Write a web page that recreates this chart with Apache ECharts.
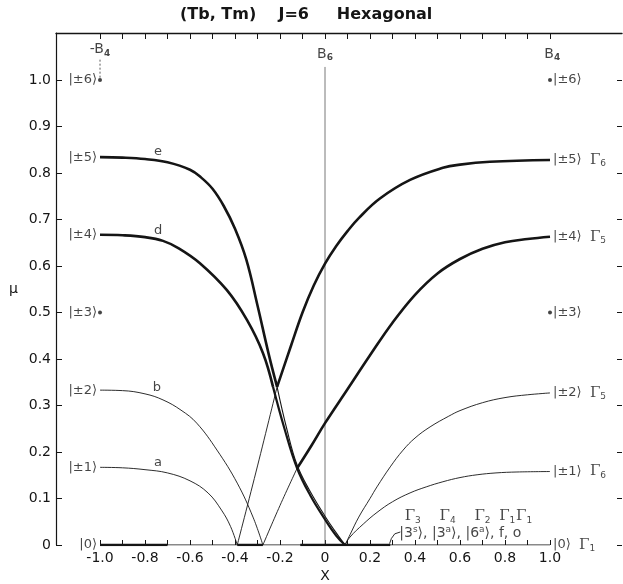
<!DOCTYPE html>
<html>
<head>
<meta charset="utf-8">
<script src="https://cdn.jsdelivr.net/npm/echarts@6/dist/echarts.min.js"></script>
<style>
  html, body { margin: 0; padding: 0; background: #fff; }
  #chart { width: 623px; height: 584px; }
</style>
</head>
<body>
<div id="chart"></div>
<script>
// Ground-doublet moment u versus mixing parameter X, J = 6, hexagonal field.

const xTickValues = [-1.0, -0.9, -0.8, -0.7, -0.6, -0.5, -0.4, -0.3, -0.2, -0.1, 0, 0.1, 0.2, 0.3, 0.4, 0.5, 0.6, 0.7, 0.8, 0.9, 1.0];
const xLabelValues = [-1.0, -0.8, -0.6, -0.4, -0.2, 0, 0.2, 0.4, 0.6, 0.8, 1.0];
const xLabelTexts = ['-1.0', '-0.8', '-0.6', '-0.4', '-0.2', '0', '0.2', '0.4', '0.6', '0.8', '1.0'];
const yTickValues = [0, 0.1, 0.2, 0.3, 0.4, 0.5, 0.6, 0.7, 0.8, 0.9, 1.0];
const yLabelTexts = ['0', '0.1', '0.2', '0.3', '0.4', '0.5', '0.6', '0.7', '0.8', '0.9', '1.0'];

// curve e : |±5> doublet entering from the left
const curveELeft = [[-1, 0.834], [-0.9, 0.833], [-0.8, 0.83], [-0.7, 0.823], [-0.6, 0.807], [-0.55, 0.79], [-0.5, 0.766], [-0.45, 0.729], [-0.4, 0.68], [-0.35, 0.614], [-0.3, 0.515], [-0.25, 0.41], [-0.213, 0.34]];
const curveEMid = [[-0.213, 0.34], [-0.17, 0.25], [-0.124, 0.172], [-0.067, 0.116], [0, 0.062], [0.05, 0.026], [0.089, 0]];
const curveERight = [[0.089, 0], [0.111, 0.017], [0.17, 0.045], [0.231, 0.07], [0.3, 0.093], [0.378, 0.112], [0.45, 0.125], [0.524, 0.136], [0.6, 0.145], [0.676, 0.151], [0.76, 0.155], [0.853, 0.157], [1.0, 0.158]];

// curve d : |±4> doublet entering from the left
const curveDLeft = [[-1, 0.667], [-0.9, 0.666], [-0.8, 0.662], [-0.72, 0.654], [-0.65, 0.638], [-0.556, 0.606], [-0.436, 0.548], [-0.347, 0.484], [-0.276, 0.413], [-0.231, 0.34]];
const curveDMid = [[-0.231, 0.34], [-0.18, 0.25], [-0.124, 0.165], [-0.067, 0.108], [0, 0.055], [0.05, 0.02], [0.089, 0]];
const curveDRight = [[0.089, 0], [0.111, 0.022], [0.15, 0.06], [0.2, 0.1], [0.231, 0.125], [0.29, 0.168], [0.347, 0.204], [0.4, 0.23], [0.467, 0.254], [0.55, 0.277], [0.6, 0.289], [0.7, 0.306], [0.8, 0.317], [0.9, 0.323], [1.0, 0.327]];

// curve a : |±1> doublet entering from the left
const curveALeft = [[-1, 0.167], [-0.9, 0.166], [-0.8, 0.162], [-0.7, 0.155], [-0.6, 0.138], [-0.52, 0.112], [-0.46, 0.075], [-0.42, 0.04], [-0.39, 0]];
const curveARise = [[-0.39, 0], [-0.3, 0.17], [-0.213, 0.34]];
const curveARight = [[-0.213, 0.34], [-0.15, 0.43], [-0.1, 0.5], [-0.05, 0.558], [0, 0.605], [0.05, 0.643], [0.1, 0.675], [0.15, 0.703], [0.244, 0.745], [0.378, 0.785], [0.524, 0.811], [0.6, 0.818], [0.733, 0.824], [1.0, 0.828]];

// curve b : |±2> doublet entering from the left
const curveBLeft = [[-1, 0.333], [-0.9, 0.332], [-0.8, 0.325], [-0.72, 0.312], [-0.64, 0.29], [-0.57, 0.262], [-0.48, 0.204], [-0.39, 0.133], [-0.32, 0.06], [-0.276, 0]];
const curveBRise = [[-0.276, 0], [-0.2, 0.085], [-0.124, 0.165]];
const curveBRight = [[-0.124, 0.165], [-0.06, 0.214], [0, 0.262], [0.1, 0.335], [0.2, 0.408], [0.3, 0.478], [0.4, 0.538], [0.5, 0.584], [0.6, 0.615], [0.7, 0.637], [0.8, 0.651], [0.9, 0.658], [1.0, 0.663]];

// singlet levels lying on u = 0
const baseLine = [[-1, 0], [1, 0]];
const baseThick = [[[-1, 0], [-0.7, 0]], [[-0.39, 0], [-0.276, 0]], [[-0.11, 0], [0.29, 0]]];

// pure states at the ends (|±6>, |±3>)
const pureDots = [[-1, 1.0], [-1, 0.5], [1, 1.0], [1, 0.5]];

const leftKets = [[-1, 1.0, '|±6⟩'], [-1, 0.834, '|±5⟩'], [-1, 0.667, '|±4⟩'], [-1, 0.5, '|±3⟩'], [-1, 0.333, '|±2⟩'], [-1, 0.167, '|±1⟩'], [-1, 0, '|0⟩']];
const rightKets = [[1, 1.0, '|±6⟩', ''], [1, 0.828, '|±5⟩', '6'], [1, 0.663, '|±4⟩', '5'], [1, 0.5, '|±3⟩', ''], [1, 0.327, '|±2⟩', '5'], [1, 0.158, '|±1⟩', '6'], [1, 0, '|0⟩', '1']];
const curveLetters = [[-0.742, 0.845, 'e'], [-0.742, 0.677, 'd'], [-0.747, 0.338, 'b'], [-0.742, 0.178, 'a']];
const gammaSinglets = [[0.39, 0.062, '3'], [0.545, 0.062, '4'], [0.70, 0.062, '2'], [0.81, 0.062, '1'], [0.885, 0.062, '1']];
const singletStates = [[0.33, 0.026, '|3{sup|s}⟩, |3{sup|a}⟩, |6{sup|a}⟩, f, o']];
const fieldLabels = [[-1, 1.066, '-B', '4'], [0, 1.056, 'B', '6'], [1.01, 1.056, 'B', '4']];
const b6Line = [[0, 0], [0, 1.028]];
const b4Guide = [[-1, 1.005], [-1, 1.047]];
const arrowPath = [[0.335, 0.028], [0.31, 0.024], [0.295, 0.014], [0.287, 0.003]];

const FONT = 'DejaVu Sans';
const INK = '#151515';

function curve(data, width) {
  return {
    type: 'line', data: data, showSymbol: false, smooth: 0.4, silent: true,
    lineStyle: { color: INK, width: width }, z: 3
  };
}

function labelSeries(rows, label) {
  return {
    type: 'scatter', symbolSize: 0, silent: true, clip: false,
    data: rows.map(r => ({ value: [r[0], r[1]], raw: r })),
    label: Object.assign({
      show: true, distance: 3, color: INK, fontFamily: FONT, fontSize: 13
    }, label),
    z: 5
  };
}

const gammaRich = {
  g: { fontFamily: 'DejaVu Serif', fontSize: 15, color: INK },
  s: { fontFamily: FONT, fontSize: 9, color: INK, padding: [8, 0, 0, 0] }
};

const series = [
  curve(baseLine, 1.2),
  ...baseThick.map(seg => curve(seg, 2.4)),
  curve(curveELeft, 2.6), curve(curveEMid, 1.1), curve(curveERight, 0.9),
  curve(curveDLeft, 2.6), curve(curveDMid, 2.2), curve(curveDRight, 0.9),
  curve(curveALeft, 0.9), curve(curveARise, 0.9), curve(curveARight, 2.6),
  curve(curveBLeft, 0.9), curve(curveBRise, 0.9), curve(curveBRight, 2.6),
  {
    type: 'line', data: b6Line, showSymbol: false, silent: true,
    lineStyle: { color: '#555', width: 0.8 }, z: 2
  },
  {
    type: 'line', data: b4Guide, showSymbol: false, silent: true,
    lineStyle: { color: '#333', width: 0.8, type: [2, 2] }, z: 2
  },
  {
    type: 'lines', coordinateSystem: 'cartesian2d', polyline: true, silent: true,
    symbol: ['none', 'arrow'], symbolSize: 6,
    lineStyle: { color: INK, width: 0.9, opacity: 1 },
    data: [{ coords: arrowPath }], z: 3
  },
  {
    type: 'scatter', data: pureDots, symbolSize: 4, silent: true, clip: false,
    itemStyle: { color: INK }, z: 4
  },
  labelSeries(leftKets, { position: 'left', formatter: p => p.data.raw[2] }),
  labelSeries(rightKets, {
    position: 'right',
    formatter: p => { const r = p.data.raw; return r[3] ? r[2] + '  {g|Γ}{s|' + r[3] + '}' : r[2]; },
    rich: gammaRich
  }),
  labelSeries(curveLetters, { position: 'inside', formatter: p => p.data.raw[2] }),
  labelSeries(gammaSinglets, {
    position: 'inside', formatter: p => '{g|Γ}{s|' + p.data.raw[2] + '}', rich: gammaRich
  }),
  labelSeries(singletStates, {
    position: 'right', distance: 0, fontSize: 14,
    formatter: p => p.data.raw[2],
    rich: { sup: { fontFamily: FONT, fontSize: 9, color: INK, padding: [0, 0, 7, 0] } }
  }),
  labelSeries(fieldLabels, {
    position: 'inside', fontSize: 14,
    formatter: p => p.data.raw[2] + '{s|' + p.data.raw[3] + '}',
    rich: { s: { fontFamily: FONT, fontSize: 9, fontWeight: 'bold', color: INK, padding: [8, 0, 0, 0] } }
  })
];

function pick(values, texts, v) {
  for (let i = 0; i < values.length; i++) {
    if (Math.abs(values[i] - v) < 1e-6) return texts[i];
  }
  return '';
}

const chart = echarts.init(document.getElementById('chart'), null, { renderer: 'canvas' });
chart.setOption({
  animation: false,
  backgroundColor: '#fff',
  title: {
    text: '(Tb, Tm)    J=6     Hexagonal',
    left: 175, top: 2,
    textStyle: { fontFamily: FONT, fontSize: 16, fontWeight: 'bold', color: INK }
  },
  grid: { left: 56, right: 1, top: 33, bottom: 39, containLabel: false, outerBoundsMode: 'none' },
  xAxis: [
    {
      type: 'value', min: -1.1956, max: 1.32, position: 'bottom',
      axisLine: { show: false, onZero: false },
      splitLine: { show: false },
      axisTick: { show: true, inside: true, length: 5, customValues: xTickValues, lineStyle: { color: INK, width: 1 } },
      axisLabel: {
        show: true, customValues: xLabelValues, margin: 4,
        fontFamily: FONT, fontSize: 14, color: INK, lineHeight: 18,
        formatter: v => {
          const t = pick(xLabelValues, xLabelTexts, v);
          return Math.abs(v) < 1e-6 ? t + '\nX' : t;
        }
      }
    },
    {
      type: 'value', min: -1.1956, max: 1.32, position: 'top',
      axisLine: { show: true, onZero: false, lineStyle: { color: INK, width: 1.4 } },
      splitLine: { show: false },
      axisTick: { show: true, inside: true, length: 6, customValues: xTickValues, lineStyle: { color: INK, width: 1 } },
      axisLabel: { show: false }
    }
  ],
  yAxis: [
    {
      type: 'value', min: 0, max: 1.101, position: 'left',
      name: 'μ', nameLocation: 'middle', nameGap: 38, nameRotate: 0,
      nameTextStyle: { fontFamily: FONT, fontSize: 14, color: INK },
      axisLine: { show: true, onZero: false, lineStyle: { color: INK, width: 1.2 } },
      splitLine: { show: false },
      axisTick: { show: true, inside: true, length: 6, customValues: yTickValues, lineStyle: { color: INK, width: 1 } },
      axisLabel: {
        show: true, customValues: yTickValues, margin: 5,
        fontFamily: FONT, fontSize: 14, color: INK,
        formatter: v => pick(yTickValues, yLabelTexts, v)
      }
    },
    {
      type: 'value', min: 0, max: 1.101, position: 'right',
      axisLine: { show: false, onZero: false },
      splitLine: { show: false },
      axisTick: { show: true, inside: true, length: 5, customValues: yTickValues, lineStyle: { color: INK, width: 1 } },
      axisLabel: { show: false }
    }
  ],
  series: series
});
</script>
</body>
</html>
